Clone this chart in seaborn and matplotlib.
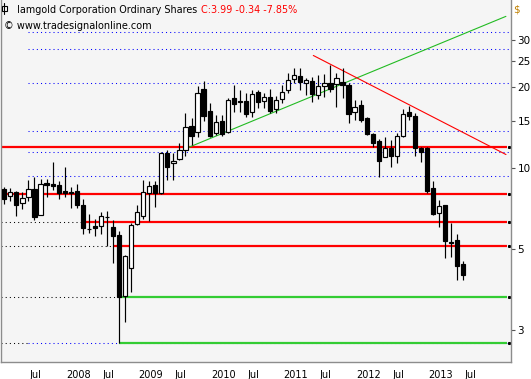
import matplotlib
matplotlib.use('Agg')
import matplotlib.pyplot as plt
import matplotlib.transforms as mtransforms
from matplotlib.patches import Rectangle
from matplotlib.lines import Line2D
import seaborn as sns
import pandas as pd
import numpy as np

# monthly candles, first bar = March 2007, last bar = July 2013
first_month = "2007-03-01"
opens = [8.36, 7.85, 8.12, 7.39, 7.78, 8.33, 6.71, 8.77, 8.70, 8.62,
         8.19, 8.14, 8.19, 7.27, 5.93, 6.09, 6.07, 6.57, 6.04, 5.63,
         3.35, 4.24, 6.19, 6.65, 8.05, 8.62, 8.05, 11.34, 10.41, 10.83,
         11.67, 14.29, 13.57, 19.62, 16.29, 13.46, 14.95, 13.57, 18.16, 17.75,
         17.75, 16.11, 19.11, 17.79, 18.41, 16.57, 18.00, 19.45, 21.48, 21.93,
         20.76, 20.97, 18.68, 20.17, 20.65, 20.47, 20.83, 20.35, 16.19, 17.15,
         15.34, 13.38, 12.60, 10.96, 11.84, 11.11, 13.19, 16.15, 15.61, 11.90,
         11.84, 8.43, 6.82, 7.29, 5.31, 5.40, 4.39]
highs = [8.48, 8.41, 8.21, 8.12, 9.03, 9.26, 9.10, 9.10, 10.53, 8.95,
         10.09, 8.48, 8.70, 7.67, 6.75, 6.45, 6.86, 6.92, 6.41, 5.83,
         4.73, 6.23, 7.27, 9.03, 8.95, 8.95, 11.47, 11.67, 11.34, 12.36,
         15.97, 15.30, 20.17, 21.06, 17.40, 15.74, 15.74, 18.25, 20.35, 19.50,
         19.05, 19.50, 19.50, 19.05, 19.62, 18.52, 20.35, 22.49, 23.48, 23.48,
         21.56, 21.79, 22.17, 22.36, 24.15, 22.49, 23.48, 20.65, 17.89, 17.89,
         15.51, 13.46, 12.79, 13.01, 12.71, 13.46, 16.53, 17.00, 15.97, 12.00,
         12.00, 8.97, 7.60, 7.29, 6.23, 5.68, 4.51]
lows = [7.35, 7.56, 6.65, 7.06, 7.56, 6.41, 6.71, 7.82, 8.28, 7.69,
        7.82, 7.12, 7.10, 5.70, 5.75, 5.60, 5.70, 5.14, 4.45, 2.23,
        2.68, 3.46, 6.16, 6.46, 6.37, 7.18, 8.01, 9.03, 9.03, 10.71,
        11.08, 12.18, 13.07, 14.95, 13.01, 13.27, 13.15, 13.46, 16.19, 16.19,
        15.51, 15.51, 16.67, 16.67, 15.97, 15.97, 17.40, 19.05, 20.65, 19.50,
        18.68, 17.64, 18.00, 18.41, 19.21, 16.90, 18.16, 14.74, 15.09, 14.86,
        13.27, 12.00, 9.24, 10.96, 10.06, 10.41, 13.01, 15.02, 11.08, 10.55,
        8.09, 6.69, 6.05, 4.61, 4.68, 3.82, 3.83]
closes = [7.69, 8.12, 7.31, 7.74, 8.33, 6.59, 8.70, 8.65, 8.60, 8.05,
          8.05, 8.05, 7.31, 6.00, 5.91, 6.00, 6.61, 6.56, 5.60, 3.31,
          4.70, 6.12, 6.84, 8.12, 8.55, 8.09, 11.37, 10.11, 10.62, 11.67,
          14.17, 13.15, 18.95, 15.65, 13.19, 14.79, 13.38, 17.85, 17.34, 17.60,
          15.83, 18.79, 17.64, 18.32, 16.33, 17.89, 19.11, 21.18, 22.12, 20.83,
          21.18, 18.79, 20.17, 20.65, 19.67, 21.56, 20.40, 15.83, 16.81, 15.09,
          13.35, 12.42, 10.64, 11.90, 11.08, 13.15, 15.88, 15.65, 11.90, 11.50,
          8.23, 6.75, 7.22, 5.37, 5.26, 4.33, 3.99]

title = "Iamgold Corporation Ordinary Shares"
quote = "C:3.99 -0.34 -7.85%"
source = "\u00a9 www.tradesignalonline.com"

# support / resistance levels (price, first bar, colour)
level_prices = [11.94, 8.03, 6.30, 5.14, 3.32, 2.24]
level_start = [None, 0, 13, 18, 19, 19]
level_colors = ["#ff0000", "#ff0000", "#ff0000", "#ff0000", "#33cc33", "#33cc33"]

# fibonacci style dotted levels, drawn from bar 4 onwards
fib_prices = [2.24, 9.31, 11.44, 13.72, 20.65, 27.6, 31.95]
fib_start = 4

# trend lines (bar, price)
up_trend_x = [30.2, 83.05]
up_trend_y = [11.85, 36.6]
down_trend_x = [51.16, 83.06]
down_trend_y = [26.19, 11.22]

ytick_values = [2.5, 5, 10, 15, 20, 25, 30]
ytick_labels = ["3", "5", "10", "15", "20", "25", "30"]

sns.set_style("white")
plt.rcParams['font.family'] = ['DejaVu Sans']

df = pd.DataFrame({"open": opens, "high": highs, "low": lows, "close": closes},
                  index=pd.date_range(first_month, periods=len(opens), freq="MS"))
df["bar"] = np.arange(len(df))
up = df["close"] >= df["open"]

W, H = 531, 379
fig = plt.figure(figsize=(W / 100, H / 100), dpi=100)
ax = fig.add_axes([1 / W, 17 / H, 509.5 / W, 362 / H])
ax.set_facecolor("#f5f5f5")
ax.set_yscale("log")
ax.set_xlim(-0.546, 83.81)
ax.set_ylim(1.901, 42.1)

x_left, x_right = ax.get_xlim()
line_end = 83.2

# dotted fib levels
for p in fib_prices:
    ax.plot([fib_start, x_right], [p, p], color="#0000ff", lw=0.75,
            ls=(0, (1, 3)), zorder=1)

# horizontal levels: dotted black to the left, solid to the right
for p, s, c in zip(level_prices, level_start, level_colors):
    if s is None:
        s = x_left
    else:
        end_dot = min(s, fib_start) if p in fib_prices else s
        ax.plot([x_left, end_dot], [p, p], color="black", lw=0.75,
                ls=(0, (1, 3)), zorder=1)
    ax.plot([s, line_end], [p, p], color=c, lw=1.6, solid_capstyle="butt", zorder=2)
    ax.plot([83.64], [p], marker="s", ms=1.2, color="black", zorder=2)

# trend lines
ax.plot(up_trend_x, up_trend_y, color="#22bb22", lw=0.8, zorder=2)
ax.plot(down_trend_x, down_trend_y, color="#ff0000", lw=0.8, zorder=2)

# candles
ax.vlines(df["bar"], df["low"], df["high"], color="black", lw=0.85, zorder=3)
body_lo = np.minimum(df["open"], df["close"])
body_hi = np.maximum(df["open"], df["close"])
ax.bar(df["bar"], body_hi - body_lo, bottom=body_lo, width=0.7,
       color=np.where(up, "white", "black"), edgecolor="black",
       linewidth=0.85, zorder=4)

# axes styling
for side in ["left", "bottom", "right"]:
    ax.spines[side].set_color("#8c8c8c")
    ax.spines[side].set_linewidth(1.0)
ax.spines["top"].set_visible(False)

ax.yaxis.tick_right()
ax.yaxis.set_minor_locator(matplotlib.ticker.NullLocator())
ax.set_yticks(ytick_values)
ax.set_yticklabels(ytick_labels)
ax.tick_params(axis="y", direction="out", length=3, width=0.8, color="#555555",
               pad=2, labelsize=7.5, labelcolor="black")

tick_bars = df.loc[df.index.month.isin([1, 7]), "bar"]
tick_text = ["Jul" if d.month == 7 else str(d.year)
             for d in df.index[df.index.month.isin([1, 7])]]
ax.set_xticks(tick_bars)
ax.set_xticklabels(tick_text)
ax.tick_params(axis="x", direction="out", length=4, width=0.8, color="#555555",
               pad=1.5, labelsize=7, labelcolor="black")
offset = mtransforms.ScaledTranslation(1.5 / 100, 0, fig.dpi_scale_trans)
for lab in ax.get_xticklabels():
    lab.set_horizontalalignment("left")
    lab.set_transform(lab.get_transform() + offset)

# header texts
t = fig.text(16.7 / W, 1 - 10 / H, title, fontsize=6.9, color="black", va="center")
fig.canvas.draw()
t_end = t.get_window_extent(fig.canvas.get_renderer()).x1
fig.text((t_end + 4) / W, 1 - 10 / H, quote, fontsize=6.9, color="#ff0000", va="center")
fig.text(4 / W, 1 - 26 / H, source, fontsize=7, color="black", va="center")
fig.text(513 / W, 1 - 10 / H, "$", fontsize=7.5, color="#c08000", va="center")

# small candle icon next to the title
fig.add_artist(Line2D([4.3 / W, 4.3 / W], [1 - 3.3 / H, 1 - 14 / H],
                      color="black", lw=0.8))
fig.add_artist(Rectangle((2.2 / W, 1 - 11 / H), 4.3 / W, 5.3 / H,
                         facecolor="white", edgecolor="black", lw=0.8))

fig.savefig("out.png", dpi=100)
plt.close(fig)
